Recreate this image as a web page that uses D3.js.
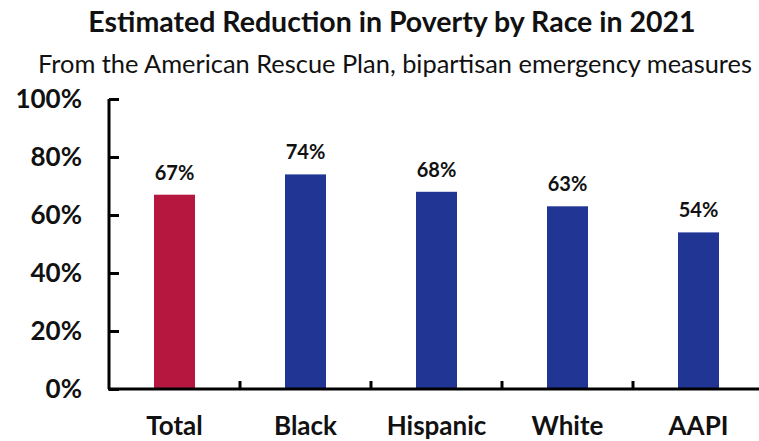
<!DOCTYPE html>
<html><head><meta charset="utf-8">
<script src="https://cdn.jsdelivr.net/npm/d3@7"></script>
<style>body{margin:0;background:#fff}svg{display:block}</style>
</head><body>
<script>
const categories = ["Total","Black","Hispanic","White","AAPI"];
const values = [0.67, 0.74, 0.68, 0.63, 0.54];
const valueLabels = ["67%","74%","68%","63%","54%"];
const yTicks = [0, 0.2, 0.4, 0.6, 0.8, 1.0];
const barColors = ["#B5173E","#203594","#203594","#203594","#203594"];
const title = "Estimated Reduction in Poverty by Race in 2021";
const subtitle = "From the American Rescue Plan, bipartisan emergency measures";

const W = 759, H = 441;
const font = "Lato, 'Open Sans', sans-serif";
const svg = d3.select("body").append("svg").attr("width", W).attr("height", H);

const x = d3.scaleBand().domain(categories).range([109, 764]).paddingInner(0.687).paddingOuter(0.3435);
const y = d3.scaleLinear().domain([0, 1]).range([389, 99]);

svg.append("text").attr("x", 392).attr("y", 32).attr("text-anchor", "middle")
  .style("font-family", font).style("font-weight", 700).style("font-size", "28.5px").attr("fill", "#111").text(title);
svg.append("text").attr("x", 395).attr("y", 73).attr("text-anchor", "middle")
  .style("font-family", font).style("font-weight", 400).style("font-size", "25.4px").attr("fill", "#111").text(subtitle);

// bars
svg.selectAll("rect.bar").data(categories).join("rect").attr("class", "bar")
  .attr("x", d => x(d)).attr("width", x.bandwidth())
  .attr("y", (d, i) => y(values[i])).attr("height", (d, i) => y(0) - y(values[i]))
  .attr("fill", (d, i) => barColors[i]);

// value labels
svg.selectAll("text.val").data(categories).join("text").attr("class", "val")
  .attr("x", d => x(d) + x.bandwidth() / 2).attr("y", (d, i) => y(values[i]) - 15)
  .attr("text-anchor", "middle").style("font-family", font).style("font-weight", 700)
  .style("font-size", "20px").attr("fill", "#111").text((d, i) => valueLabels[i]);

// y axis
const yAxis = d3.axisRight(y).tickValues(yTicks).tickSize(10).tickFormat("");
const gy = svg.append("g").attr("transform", "translate(109,0)").call(yAxis);
gy.select(".domain").attr("stroke", "#000").attr("stroke-width", 3).attr("d", `M0,${y(1)}V${y(0)}`);
gy.selectAll(".tick line").attr("stroke", "#000").attr("stroke-width", 3);
svg.selectAll("text.ytl").data(yTicks).join("text").attr("class", "ytl")
  .attr("x", 82).attr("y", d => y(d)).attr("dy", "0.35em").attr("text-anchor", "end")
  .style("font-family", font).style("font-weight", 700).style("font-size", "26px").attr("fill", "#111")
  .text(d => d3.format(".0%")(d));

// x axis
const gx = svg.append("g").attr("transform", `translate(0,${y(0)})`);
gx.append("line").attr("x1", 108).attr("x2", 764).attr("stroke", "#000").attr("stroke-width", 3);
const bounds = categories.slice(1).map(c => x(c) - x.step() * x.paddingInner() / 2);
gx.selectAll("line.tk").data(bounds).join("line").attr("class", "tk")
  .attr("x1", d => d).attr("x2", d => d).attr("y1", 0).attr("y2", -8)
  .attr("stroke", "#000").attr("stroke-width", 3);
gx.selectAll("text").data(categories).join("text")
  .attr("x", d => x(d) + x.bandwidth() / 2).attr("y", 46).attr("text-anchor", "middle")
  .style("font-family", font).style("font-weight", 700).style("font-size", "26px").attr("fill", "#111")
  .text(d => d);
</script>
</body></html>
